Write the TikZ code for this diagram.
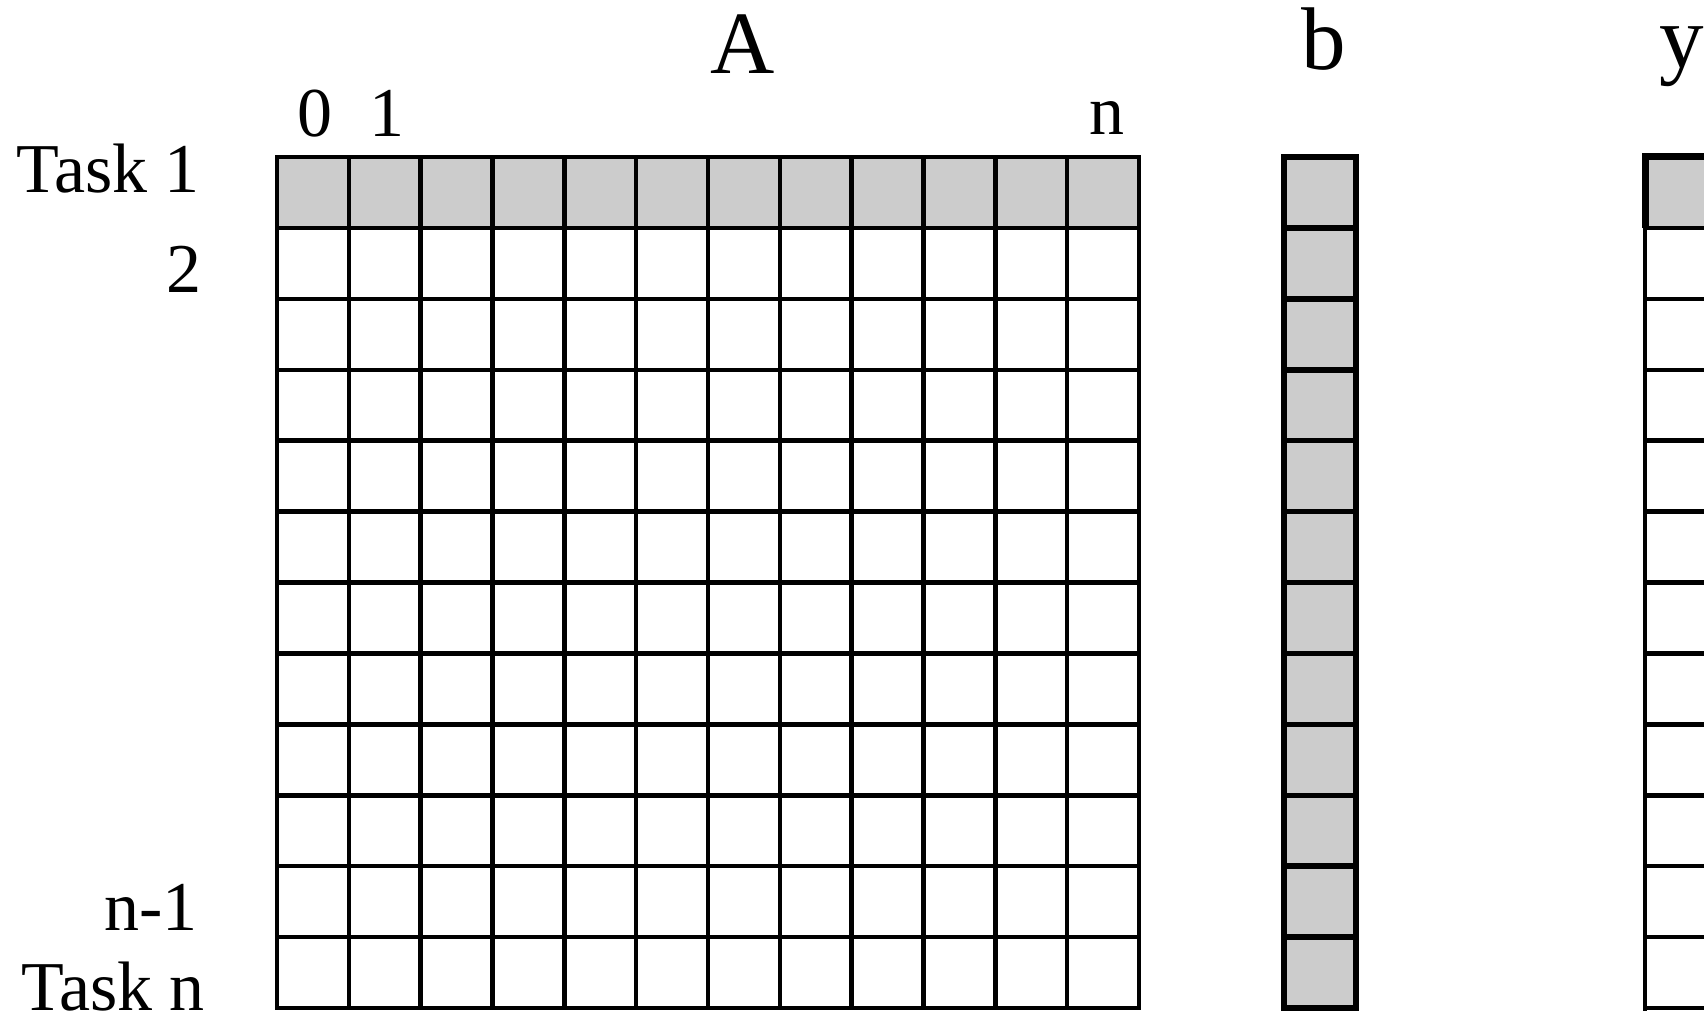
\documentclass[tikz,border=0pt]{standalone}
\usepackage{fontspec}
\setmainfont{Liberation Serif}
\definecolor{cellgray}{HTML}{CCCCCC}
\begin{document}
\begin{tikzpicture}[x=1pt,y=-1pt,
  gridline/.style={line width=4.5pt, line cap=rect},
  vecline/.style={line width=5.5pt, line cap=rect},
  lbl/.style={inner sep=0pt, font=\fontsize{70}{84}\selectfont},
  biglbl/.style={inner sep=0pt, font=\fontsize{89}{100}\selectfont}]
\useasboundingbox (0,0) rectangle (1704,1011);
\clip (0,0) rectangle (1704,1011);
\def\xa{277}\def\ya{157}\def\cw{71.83}\def\ch{70.92}
% matrix A
\fill[cellgray] (\xa,\ya) rectangle (1139,228);
\foreach \i in {0,...,12}{
  \draw[gridline] ({\xa+\i*\cw},\ya) -- ({\xa+\i*\cw},1008);
  \draw[gridline] (\xa,{\ya+\i*\ch}) -- (1139,{\ya+\i*\ch});
}
% vector b
\fill[cellgray] (1284,\ya) rectangle (1356,1008);
\draw[vecline] (1284,\ya) -- (1284,1008);
\draw[vecline] (1356,\ya) -- (1356,1008);
\foreach \i in {0,...,12}{
  \draw[vecline] (1284,{\ya+\i*\ch}) -- (1356,{\ya+\i*\ch});
}
% vector y
\fill[cellgray] (1645,\ya) rectangle (1720,228);
\draw[line width=7pt] (1645,228) -- (1645,\ya) -- (1720,\ya);
\draw[gridline] (1645,228) -- (1645,1015);
\foreach \i in {1,...,12}{
  \draw[gridline] (1645,{\ya+\i*\ch}) -- (1720,{\ya+\i*\ch});
}
% labels
\node[biglbl, anchor=base] (labA) at (743,74) {A};
\node[biglbl, anchor=base] (labb) at (1324,70) {b};
\node[biglbl, anchor=base] (laby) at (1682,68) {y};
\node[lbl, anchor=base] (c0) at (315,137) {0};
\node[lbl, anchor=base] (c1) at (387,137) {1};
\node[lbl, anchor=base] (cn) at (1107,135) {n};
\node[lbl, anchor=base east] (t1) at (200,193) {Task 1};
\node[lbl, anchor=base east] (t2) at (202,292) {2};
\node[lbl, anchor=base east] (tn1) at (198,930) {n-1};
\node[lbl, anchor=base east] (tn) at (205,1010) {Task n};
\end{tikzpicture}
\end{document}
